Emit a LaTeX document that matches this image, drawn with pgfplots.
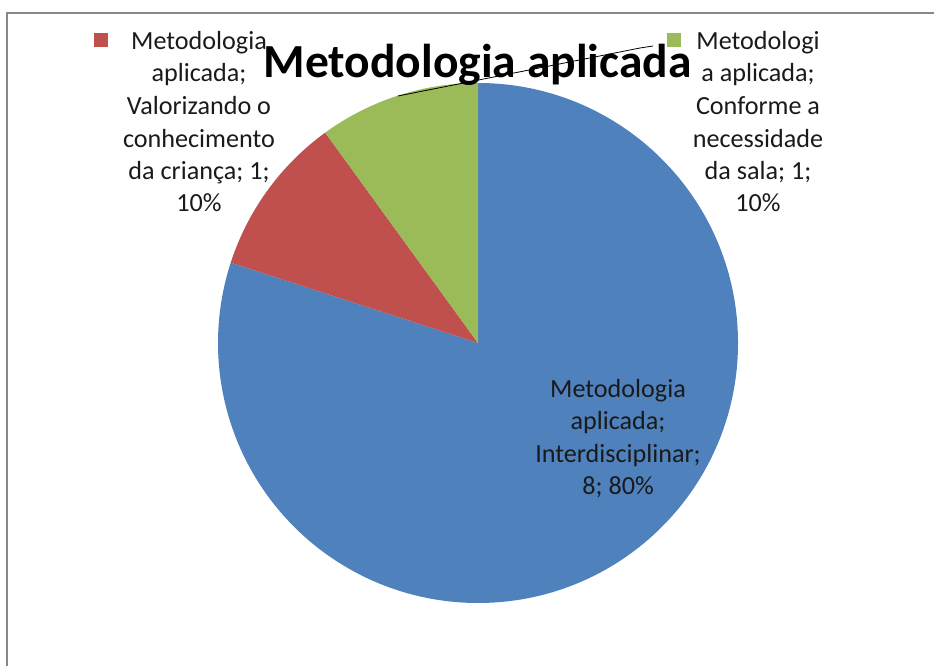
\documentclass[border=0pt]{standalone}
\usepackage{pgfplots}
\usepackage{pgfplotstable}
\pgfplotsset{compat=1.18}
\usepackage{fontspec}
\setmainfont{Carlito}
\definecolor{pblue}{HTML}{4F81BD}
\definecolor{pred}{HTML}{C0504D}
\definecolor{pgreen}{HTML}{9BBB59}
\definecolor{frame}{HTML}{888888}
\definecolor{txt}{HTML}{1A1A1A}
\pgfplotstableread{
value
8
1
1
}\piedata
\newcommand{\lbl}{\fontsize{19.6pt}{24.4pt}\selectfont}
\begin{document}
\begin{tikzpicture}
\pgfplotstablegetelem{0}{value}\of\piedata \let\va\pgfplotsretval
\pgfplotstablegetelem{1}{value}\of\piedata \let\vb\pgfplotsretval
\pgfplotstablegetelem{2}{value}\of\piedata \let\vc\pgfplotsretval
\pgfmathsetmacro{\tot}{\va+\vb+\vc}
\pgfmathsetmacro{\aA}{90}
\pgfmathsetmacro{\aB}{90-360*\va/\tot}
\pgfmathsetmacro{\aC}{\aB-360*\vb/\tot}
\pgfmathsetmacro{\aD}{\aC-360*\vc/\tot}
\def\R{194.86pt}
\begin{axis}[
  hide axis, scale only axis,
  width=700pt, height=499.14pt,
  xmin=0, xmax=934, ymin=0, ymax=666,
  clip=false,
]
% frame
\draw[frame, line width=1.5pt] (axis cs:7,0) -- (axis cs:7,653) -- (axis cs:934,653);
% pie
\fill[pblue] (axis cs:478,323) -- ++(\aA:\R) arc[start angle=\aA, end angle=\aB, radius=\R] -- cycle;
\fill[pred] (axis cs:478,323) -- ++(\aB:\R) arc[start angle=\aB, end angle=\aC, radius=\R] -- cycle;
\fill[pgreen] (axis cs:478,323) -- ++(\aC:\R) arc[start angle=\aC, end angle=\aD, radius=\R] -- cycle;
% leader line
\draw[black, line width=0.6pt] (axis cs:653,620) -- (axis cs:640,618) -- (axis cs:398,570);
% title
\node[anchor=base, font=\fontsize{35.6pt}{40pt}\selectfont\bfseries] at (axis cs:477.5,588) {Metodologia aplicada};
% legend keys
\addplot[only marks, mark=square*, mark size=4.9pt, color=pred] coordinates {(101,626)};
\addplot[only marks, mark=square*, mark size=4.9pt, color=pgreen] coordinates {(674,626)};
% red label
\node[anchor=base, font=\lbl, text=txt] at (axis cs:199,616) {Metodologia};
\node[anchor=base, font=\lbl, text=txt] at (axis cs:199,584) {aplicada;};
\node[anchor=base, font=\lbl, text=txt] at (axis cs:199,551) {Valorizando o};
\node[anchor=base, font=\lbl, text=txt] at (axis cs:199,518) {conhecimento};
\node[anchor=base, font=\lbl, text=txt] at (axis cs:199,486) {da criança; 1;};
\node[anchor=base, font=\lbl, text=txt] at (axis cs:199,454) {10\%};
% green label
\node[anchor=base, font=\lbl, text=txt] at (axis cs:758,616) {Metodologi};
\node[anchor=base, font=\lbl, text=txt] at (axis cs:758,584) {a aplicada;};
\node[anchor=base, font=\lbl, text=txt] at (axis cs:758,551) {Conforme a};
\node[anchor=base, font=\lbl, text=txt] at (axis cs:758,518) {necessidade};
\node[anchor=base, font=\lbl, text=txt] at (axis cs:758,486) {da sala; 1;};
\node[anchor=base, font=\lbl, text=txt] at (axis cs:758,454) {10\%};
% blue label
\node[anchor=base, font=\lbl, text=txt] at (axis cs:618,269) {Metodologia};
\node[anchor=base, font=\lbl, text=txt] at (axis cs:618,236.5) {aplicada;};
\node[anchor=base, font=\lbl, text=txt] at (axis cs:618,204) {Interdisciplinar;};
\node[anchor=base, font=\lbl, text=txt] at (axis cs:618,171.5) {8; 80\%};
\end{axis}
\pgfresetboundingbox
\path (0,0) rectangle (700pt,499.14pt);
\end{tikzpicture}
\end{document}
